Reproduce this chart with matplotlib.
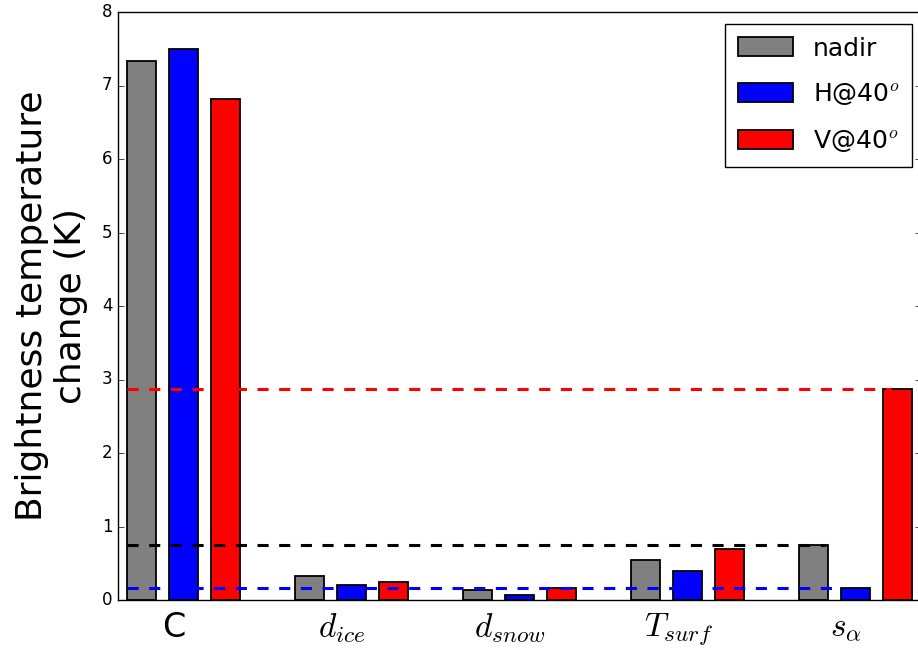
import numpy as np
import matplotlib
matplotlib.use("Agg")
import matplotlib.pyplot as plt

plt.style.use("classic")
plt.rcParams["mathtext.fontset"] = "cm"
plt.rcParams["font.family"] = ["DejaVu Sans"]
plt.rcParams["lines.scale_dashes"] = False

# Sensitivity of brightness temperature to each parameter
params = ["C", r"$d_{ice}$", r"$d_{snow}$", r"$T_{surf}$", r"$s_{\alpha}$"]
nadir = [7.33, 0.32, 0.13, 0.55, 0.75]
h40 = [7.50, 0.21, 0.07, 0.39, 0.16]
v40 = [6.82, 0.25, 0.16, 0.69, 2.87]

series_labels = ["nadir", r"H@40$^o$", r"V@40$^o$"]
series_colors = ["0.5", "b", "r"]
line_colors = ["k", "b", "r"]

fig = plt.figure(figsize=(9.18, 6.55), dpi=100)
fig.patch.set_facecolor("white")
ax = fig.add_axes([118 / 918, 55 / 655, 803 / 918, 588 / 655])

x = np.arange(len(params))
width = 0.175
step = 0.25
series = [nadir, h40, v40]
for k, (vals, lab, col) in enumerate(zip(series, series_labels, series_colors)):
    ax.bar(x + k * step, vals, width, align="edge", color=col,
           edgecolor="k", linewidth=1.3, label=lab, zorder=2)

# Reference levels: the s_alpha values carried across the chart
ref_end = [4.16, 4.22, 4.55]
for k, (vals, col) in enumerate(zip(series, line_colors)):
    ax.hlines(vals[-1], 0, ref_end[k], colors=col,
              linestyles=[(0, (8.0, 7.6))], linewidth=2.2, zorder=3)

ax.set_xlim(-0.0536, 4.726)
ax.set_ylim(0, 8)
ax.set_xticks(x + 0.28)
ax.set_xticklabels(params, fontsize=24)
ax.tick_params(axis="x", which="both", length=0, pad=8)
ax.tick_params(axis="y", labelsize=12)
ax.set_ylabel("Brightness temperature\nchange (K)", fontsize=26, labelpad=10)

leg = ax.legend(loc="upper right", fontsize=18, handlelength=2.2,
                handleheight=0.8, labelspacing=0.83, borderpad=0.5,
                handletextpad=0.8, borderaxespad=0, fancybox=False,
                bbox_to_anchor=((912 - 118) / 803, (600 - 24) / 588))

fig.savefig("out.png", dpi=100, facecolor="white")
